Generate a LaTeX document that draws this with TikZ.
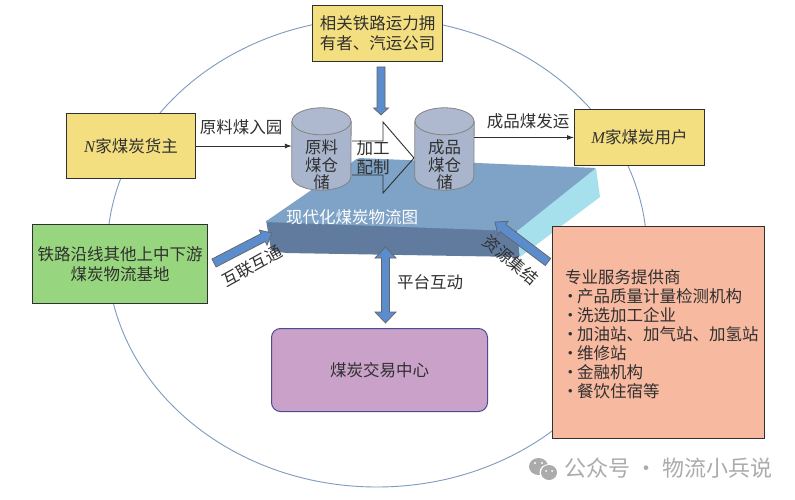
\documentclass[tikz,border=0pt]{standalone}
\usepackage{fontspec}
\setmainfont{Noto Sans CJK SC}
\newfontfamily\latinit{Liberation Serif}
\usetikzlibrary{arrows.meta,calc}
\definecolor{cyl}{HTML}{A9B5CC}
\definecolor{cyltop}{HTML}{AEB9CF}
\definecolor{arrowblue}{HTML}{5B8CCB}
\definecolor{slabtop}{HTML}{7EA3C6}
\definecolor{slabfront}{HTML}{617B9E}
\definecolor{slabside}{HTML}{A6E0EC}
\definecolor{ybox}{HTML}{F4DF80}
\definecolor{gbox}{HTML}{97D67E}
\definecolor{pbox}{HTML}{C9A1C9}
\definecolor{obox}{HTML}{F7B9A0}
\definecolor{ink}{HTML}{303030}
\definecolor{ring}{HTML}{7F9BBE}
\definecolor{wm}{HTML}{ABABAB}
\newcommand{\blocksingle}[5]{% from, to, shaft half, head half, head length
  \draw[blockstyle]
    ($(#1)!#3!90:(#2)$) -- ($($(#2)!#5!(#1)$)!#3!90:(#2)$) -- ($($(#2)!#5!(#1)$)!#4!90:(#2)$) -- (#2)
    -- ($($(#2)!#5!(#1)$)!#4!-90:(#2)$) -- ($($(#2)!#5!(#1)$)!#3!-90:(#2)$) -- ($(#1)!#3!-90:(#2)$) -- cycle;}
\newcommand{\blockdouble}[5]{%
  \draw[blockstyle]
    (#1) -- ($($(#1)!#5!(#2)$)!#4!90:(#2)$) -- ($($(#1)!#5!(#2)$)!#3!90:(#2)$)
    -- ($($(#2)!#5!(#1)$)!#3!-90:(#1)$) -- ($($(#2)!#5!(#1)$)!#4!-90:(#1)$) -- (#2)
    -- ($($(#2)!#5!(#1)$)!#4!90:(#1)$) -- ($($(#2)!#5!(#1)$)!#3!90:(#1)$)
    -- ($($(#1)!#5!(#2)$)!#3!-90:(#2)$) -- ($($(#1)!#5!(#2)$)!#4!-90:(#2)$) -- cycle;}
\newcommand{\storedraw}[1]{%
  \draw[storeline,fill=cyl] ($(#1.north west)+(0,13.5)$) -- ($(#1.south west)+(0,-13.5)$)
     arc[start angle=180,end angle=360,x radius=29.5pt,y radius=13.5pt] -- ($(#1.north east)+(0,13.5)$) -- cycle;
  \draw[storeline,fill=cyltop] ($(#1.north)+(0,13.5)$) ellipse [x radius=29.5pt,y radius=13.5pt];}
\newcommand{\bul}{\makebox[12pt][l]{\hspace{-3pt}•}}
\tikzset{
 x=1pt,y=-1pt,
 every node/.style={text=ink,font=\fontsize{16.5}{19.5}\selectfont},
 boxy/.style={draw=ink,line width=1pt,align=center,inner sep=0pt,anchor=north west},
 store/.style={minimum width=59pt,minimum height=82pt,inner sep=0pt},
 storeline/.style={draw=ink!60,line width=.8pt},
 storetext/.style={align=center,inner sep=0pt,font=\fontsize{16.5}{17.5}\selectfont},
 blockstyle/.style={draw=ink!75,line width=.7pt,fill=arrowblue,line join=miter},
 link/.style={draw=ink,line width=.9pt,-{Latex[length=7pt,width=5pt]}},
 lab/.style={inner sep=0pt},
}
\begin{document}
\begin{tikzpicture}
\useasboundingbox (0,0) rectangle (795,500);
\fill[white] (0,0) rectangle (795,500);
% ring
\draw[draw=ring,line width=.9pt] (377,252.5) ellipse [x radius=270,y radius=234.5];
% slab
\fill[slabfront,rounded corners=2pt] (266,220) -- (517,229) -- (520,257) -- (285,253) -- (271,250) -- cycle;
\fill[slabside] (517,230) -- (596,168) -- (600,197) -- (520,257) -- cycle;
\fill[slabtop,rounded corners=2pt] (265,222) -- (358,158) -- (596,168) -- (517,231) -- cycle;
% boxes
\node[boxy,fill=ybox,minimum width=130pt,minimum height=56pt] (rail) at (312,5) {相关铁路运力拥\\有者、汽运公司};
\node[boxy,fill=ybox,minimum width=129pt,minimum height=65pt] (coal) at (66,113) {{\latinit\itshape N}家煤炭货主};
\node[boxy,fill=ybox,minimum width=130pt,minimum height=56pt] (user) at (574,109) {{\latinit\itshape M}家煤炭用户};
\node[boxy,fill=gbox,minimum width=175pt,minimum height=79pt] (base) at (32,224) {铁路沿线其他上中下游\\煤炭物流基地};
\node[boxy,draw=black!30!blue!40!gray,fill=pbox,rounded corners=9pt,minimum width=216pt,minimum height=83pt] (trade) at (271,328) {煤炭交易中心};
\node[boxy,fill=obox,minimum width=212pt,minimum height=212pt] (svc) at (552,226) {};
\node[anchor=north west,align=left,inner sep=0pt,font=\fontsize{16.5}{19}\selectfont] (svctext) at (565,269) {专业服务提供商\\\bul 产品质量计量检测机构\\\bul 洗选加工企业\\\bul 加油站、加气站、加氢站\\\bul 维修站\\\bul 金融机构\\\bul 餐饮住宿等};
% process arrow
\coordinate (p1) at (352,141);
\coordinate (p2) at (383,141);
\coordinate (p3) at (383,122);
\coordinate (p4) at (414,158);
\coordinate (p5) at (383,193);
\coordinate (p6) at (383,175);
\coordinate (p7) at (352,175);
\draw[ink,line width=.9pt] (p1) -- (p2) -- (p3) -- (p4) -- (p5) -- (p6) -- (p7);
\node[lab,align=center] (proclab) at (373,158) {加工\\配制};
% stores
\node[store] (raw) at (321.5,149) {};
\node[store] (done) at (444.5,149) {};
\storedraw{raw}
\storedraw{done}
\node[storetext] (rawt) at (321.5,165) {原料\\煤仓\\储};
\node[storetext] (donet) at (444.5,165) {成品\\煤仓\\储};
% connectors
\draw[link] (coal.east) -- (coal.east -| raw.west);
\draw[link] (user.west -| done.east) -- (user.west);
\node[lab] (l1) at (241,127) {原料煤入园};
\node[lab] (l2) at (528,121) {成品煤发运};
% block arrows
\coordinate (a1s) at (381,67);
\coordinate (a1e) at (381,115);
\blocksingle{a1s}{a1e}{4pt}{7.5pt}{7pt}
\coordinate (a2s) at (385.5,247);
\coordinate (a2e) at (385.5,323);
\blockdouble{a2s}{a2e}{4pt}{10.5pt}{11pt}
\coordinate (a3s) at (214,263);
\coordinate (a3e) at (272,233);
\blocksingle{a3s}{a3e}{4.5pt}{8.5pt}{10pt}
\coordinate (a4s) at (548,262);
\coordinate (a4e) at (495,222);
\blocksingle{a4s}{a4e}{4.5pt}{8.5pt}{10pt}
% labels
\node[lab,text=white] (title) at (352,217) {现代化煤炭物流图};
\node[lab] (l3) at (430,282) {平台互动};
\node[lab,rotate=29] (l4) at (252,266) {互联互通};
\node[lab,rotate=-40] (l5) at (511,260) {资源集结};
% watermark
\fill[wm] (538.5,466.5) ellipse [x radius=9.5,y radius=8.5];
\fill[white] (549,472.5) ellipse [x radius=9.5,y radius=8.5];
\fill[wm] (549,472.5) ellipse [x radius=8,y radius=7.5];
\fill[white] (535,463) circle (1.2pt) (542,463) circle (1.2pt) (546,471) circle (1pt) (552,471) circle (1pt);
\node[lab,text=wm,anchor=west,font=\fontsize{22}{24}\selectfont] (wm) at (564,468) {公众号 · 物流小兵说};
\end{tikzpicture}
\end{document}
